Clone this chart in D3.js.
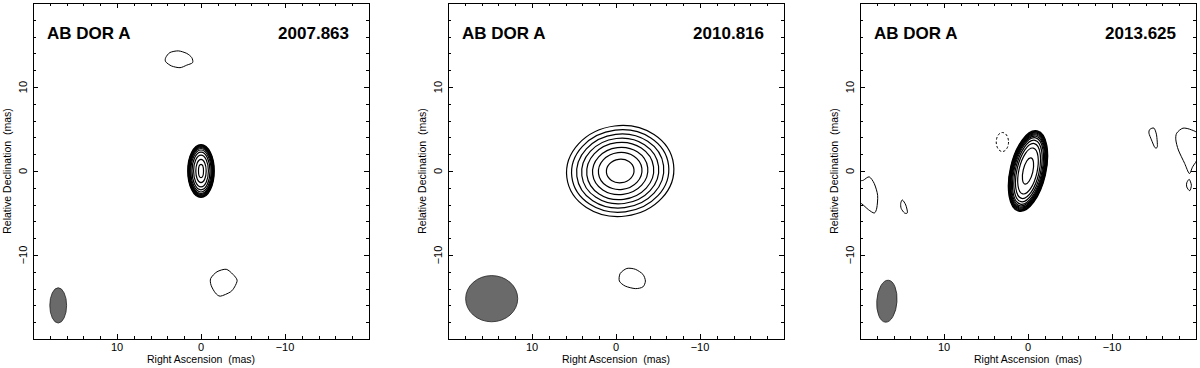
<!DOCTYPE html>
<html lang="en">
  <head>
    <meta charset="utf-8">
    <title>AB Dor A</title>
    <script src="https://d3js.org/d3.v7.min.js"></script>
    <style>
      body { margin: 0; background: #fff; }
      text { font-family: "Liberation Sans", Arial, sans-serif; fill: #000; }
      .tick-label { font-size: 11px; }
      .axis-title { font-size: 10.5px; }
      .panel-title { font-size: 17px; font-weight: bold; }
      .contour { fill: none; stroke: #000; stroke-width: 1px; }
      .core { stroke-width: 1.2px; }
    </style>
  </head>
  <body>
    <svg id="chart" width="1200" height="368"></svg>
    <script>
      // epochs and target
      var epochs = ["2007.863", "2010.816", "2013.625"];
      var target = "AB DOR A";

      // axis ticks (mas)
      var majorTicks = [10, 0, -10];
      var majorLabels = ["10", "0", "\u221210"];
      var minorTicks = [18, 16, 14, 12, 8, 6, 4, 2, -2, -4, -6, -8, -12, -14, -16, -18];

      // core contours: [semi-axis RA, semi-axis Dec] in mas, outer to inner
      var core2007 = [[1.58, 3.15], [1.53, 3.07], [1.48, 2.98], [1.43, 2.9], [1.37, 2.8], [1.3, 2.68], [1.21, 2.5], [1.07, 2.25], [0.88, 1.88], [0.62, 1.38], [0.3, 0.8]];
      var core2010 = [[6.4, 5.4], [5.8, 4.9], [5.2, 4.4], [4.6, 3.9], [4.0, 3.4], [3.3, 2.8], [2.6, 2.2], [1.65, 1.4]];
      var core2013 = [[2.12, 4.9], [2.07, 4.82], [2.02, 4.73], [1.96, 4.63], [1.9, 4.52], [1.83, 4.4], [1.75, 4.25], [1.65, 4.05], [1.5, 3.75], [1.32, 3.35], [1.08, 2.8], [0.58, 1.6]];
      // core centres [RA, Dec] and position angle (deg, screen clockwise)
      var coreCentres = [[0, 0], [-0.5, 0], [0, 0]];
      var coreAngles = [0, -7, 13];

      // restoring beams: [RA, Dec, semi RA, semi Dec, angle]
      var beams = [[17, -16, 1.0, 2.1, 0], [14.8, -15.2, 3.1, 2.75, 0], [16.8, -15.5, 1.2, 2.5, 4]];

      // weak features, [RA, Dec] outlines in mas
      var blobs2007 = [
        [[4.2, 13.5], [3.7, 14.1], [2.7, 14.3], [1.7, 14.0], [1.1, 13.5], [1.0, 12.9], [1.7, 12.6], [2.5, 12.3], [3.5, 12.5], [4.2, 13.0]],
        [[-1.9, -12.0], [-3.0, -11.7], [-3.8, -12.3], [-4.3, -13.0], [-4.0, -13.8], [-3.5, -14.4], [-2.3, -14.9], [-1.7, -14.5], [-1.2, -13.6], [-1.15, -12.8]]
      ];
      var blobs2010 = [
        [[-0.5, -12.2], [-1.3, -11.6], [-2.3, -11.7], [-3.2, -12.3], [-3.5, -13.1], [-3.2, -13.8], [-2.3, -14.0], [-1.1, -13.7], [-0.4, -13.1]]
      ];
      var blobs2013 = [
        [[20.2, -1.4], [19.6, -1.1], [18.9, -0.7], [18.3, -1.5], [17.9, -2.9], [18.0, -4.4], [18.3, -5.0], [19.0, -4.6], [19.8, -3.9], [20.4, -3.65]],
        [[14.95, -3.45], [14.55, -4.05], [14.35, -4.95], [14.7, -5.0], [15.1, -4.45], [15.15, -3.85]],
        [[-14.5, 4.95], [-15.0, 5.1], [-15.3, 4.3], [-15.4, 2.9], [-15.1, 2.8], [-14.7, 3.7], [-14.4, 4.5]],
        [[-17.7, 4.5], [-18.45, 5.1], [-19.45, 4.9], [-20.25, 4.3], [-20.25, 1.7], [-19.6, 0.5], [-19.2, -0.3], [-18.65, 0.9], [-17.9, 2.5], [-17.6, 3.7]],
        [[-19.2, -1.0], [-19.45, -1.7], [-19.25, -2.35], [-18.9, -1.9], [-18.9, -1.4]]
      ];
      // negative (dashed) contours: [RA, Dec, semi RA, semi Dec]
      var negative2013 = [[3.05, 3.45, 0.73, 1.13]];

      var cores = [core2007, core2010, core2013];
      var blobs = [blobs2007, blobs2010, blobs2013];
      var negatives = [[], [], negative2013];

      var panelLeft = [33, 448, 860];
      var panelTop = 3;
      var size = 336;

      var svg = d3.select("#chart");

      var x = d3.scaleLinear().domain([20, -20]).range([0, size]);
      var y = d3.scaleLinear().domain([-20, 20]).range([size, 0]);
      var pxPerMas = Math.abs(x(1) - x(0));

      var blobLine = d3.line()
        .x(function(d) { return x(d[0]); })
        .y(function(d) { return y(d[1]); })
        .curve(d3.curveCardinalClosed.tension(0.2));

      epochs.forEach(function(epoch, i) {
        var g = svg.append("g")
          .attr("transform", "translate(" + panelLeft[i] + "," + panelTop + ")");

        g.append("clipPath").attr("id", "clip" + i)
          .append("rect").attr("width", size).attr("height", size);

        var plot = g.append("g").attr("clip-path", "url(#clip" + i + ")");

        // beam
        var b = beams[i];
        plot.append("ellipse")
          .attr("cx", x(b[0])).attr("cy", y(b[1]))
          .attr("rx", b[2] * pxPerMas).attr("ry", b[3] * pxPerMas)
          .attr("transform", "rotate(" + b[4] + "," + x(b[0]) + "," + y(b[1]) + ")")
          .attr("fill", "#6a6a6a")
          .attr("stroke", "#222")
          .attr("stroke-width", 0.8);

        // core contours
        var c = coreCentres[i];
        plot.selectAll(".core")
          .data(cores[i])
          .enter()
          .append("ellipse")
          .attr("class", "contour core")
          .attr("cx", x(c[0])).attr("cy", y(c[1]))
          .attr("rx", function(d) { return d[0] * pxPerMas; })
          .attr("ry", function(d) { return d[1] * pxPerMas; })
          .attr("transform", "rotate(" + coreAngles[i] + "," + x(c[0]) + "," + y(c[1]) + ")");

        // weak features
        plot.selectAll(".blob")
          .data(blobs[i])
          .enter()
          .append("path")
          .attr("class", "contour blob")
          .attr("d", blobLine);

        plot.selectAll(".neg")
          .data(negatives[i])
          .enter()
          .append("ellipse")
          .attr("class", "contour neg")
          .attr("stroke-dasharray", "2.5,2")
          .attr("cx", function(d) { return x(d[0]); })
          .attr("cy", function(d) { return y(d[1]); })
          .attr("rx", function(d) { return d[2] * pxPerMas; })
          .attr("ry", function(d) { return d[3] * pxPerMas; });

        // frame
        g.append("rect")
          .attr("width", size).attr("height", size)
          .attr("fill", "none").attr("stroke", "#000").attr("stroke-width", 1)
          .attr("shape-rendering", "crispEdges");

        // inward ticks on all four sides
        var sides = [
          { axis: d3.axisBottom(x), tr: "translate(0," + size + ")" },
          { axis: d3.axisTop(x), tr: "translate(0,0)" },
          { axis: d3.axisLeft(y), tr: "translate(0,0)" },
          { axis: d3.axisRight(y), tr: "translate(" + size + ",0)" }
        ];
        sides.forEach(function(s) {
          var major = g.append("g").attr("transform", s.tr)
            .call(s.axis.tickValues(majorTicks).tickSize(-5).tickFormat(""));
          major.select(".domain").remove();
          var minor = g.append("g").attr("transform", s.tr)
            .call(s.axis.tickValues(minorTicks).tickSize(-3).tickFormat(""));
          minor.select(".domain").remove();
        });
        g.selectAll(".tick line").attr("stroke", "#000").attr("shape-rendering", "crispEdges");

        // tick labels
        g.selectAll(".xlab")
          .data(majorTicks)
          .enter()
          .append("text")
          .attr("class", "tick-label")
          .attr("x", function(d) { return x(d); })
          .attr("y", size + 12)
          .attr("text-anchor", "middle")
          .text(function(d, j) { return majorLabels[j]; });

        g.selectAll(".ylab")
          .data(majorTicks)
          .enter()
          .append("text")
          .attr("class", "tick-label")
          .attr("transform", function(d) { return "translate(-6," + y(d) + ") rotate(-90)"; })
          .attr("text-anchor", "middle")
          .text(function(d, j) { return majorLabels[j]; });

        // axis titles
        g.append("text")
          .attr("class", "axis-title")
          .attr("x", size / 2)
          .attr("y", size + 24)
          .attr("text-anchor", "middle")
          .attr("xml:space", "preserve")
          .text("Right Ascension  (mas)");

        g.append("text")
          .attr("class", "axis-title")
          .attr("transform", "translate(-22," + (size / 2) + ") rotate(-90)")
          .attr("text-anchor", "middle")
          .attr("xml:space", "preserve")
          .text("Relative Declination  (mas)");

        // labels inside panel
        g.append("text")
          .attr("class", "panel-title")
          .attr("x", 14)
          .attr("y", 36)
          .text(target);

        g.append("text")
          .attr("class", "panel-title")
          .attr("x", size - 20)
          .attr("y", 36)
          .attr("text-anchor", "end")
          .text(epoch);
      });
    </script>
  </body>
</html>
